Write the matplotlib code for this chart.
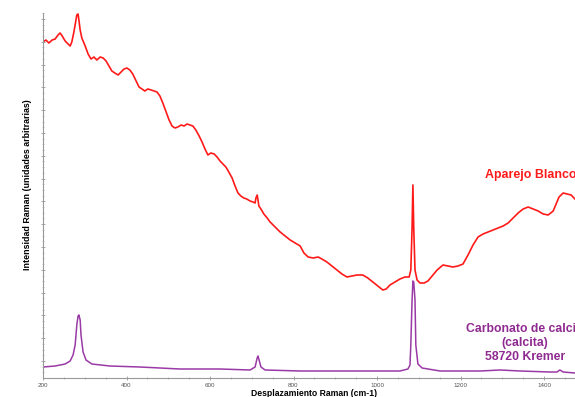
import matplotlib
matplotlib.use("Agg")
import matplotlib.pyplot as plt
import numpy as np
from matplotlib.ticker import MultipleLocator, FixedLocator

plt.rcParams['font.family'] = ['Liberation Sans', 'DejaVu Sans']

# Aparejo Blanco (red) spectrum: Raman shift (cm-1) and intensity (a.u.)
red_x = [200, 207, 214, 222, 229, 236, 241, 246, 253, 260, 265, 269, 274, 279, 281, 284, 286, 289, 293,
         301, 308, 315, 322, 329, 337, 344, 351, 358, 365, 372, 380, 387, 394, 401, 408, 415, 423, 430,
         437, 444, 451, 459, 466, 473, 480, 487, 495, 502, 509, 516, 523, 531, 538, 545, 552, 559, 566,
         574, 581, 588, 595, 602, 610, 617, 624, 631, 638, 645, 653, 660, 667, 674, 681, 688, 696, 703,
         708, 710, 713, 715, 717, 722, 729, 737, 744, 756, 768, 780, 792, 804, 816, 825, 835, 847, 859,
         868, 880, 892, 904, 916, 928, 940, 952, 966, 978, 990, 1002, 1014, 1022, 1031, 1043, 1055, 1067,
         1077, 1081, 1084, 1086, 1088, 1091, 1096, 1103, 1113, 1122, 1132, 1144, 1158, 1170, 1182, 1194,
         1206, 1218, 1230, 1242, 1254, 1266, 1278, 1290, 1302, 1314, 1326, 1338, 1350, 1362, 1374, 1386,
         1398, 1410, 1422, 1429, 1436, 1446, 1455, 1465, 1474, 1490]
red_y = [336, 338, 335, 338, 339, 343, 345, 342, 337, 334, 332, 336, 346, 358, 363, 364, 358, 348, 340,
         332, 324, 319, 321, 318, 321, 320, 317, 312, 307, 305, 303, 306, 309, 310, 308, 304, 297, 291,
         289, 287, 289, 288, 287, 286, 282, 275, 266, 258, 252, 250, 251, 253, 252, 254, 253, 252, 248,
         242, 236, 229, 223, 225, 224, 221, 217, 214, 211, 206, 200, 192, 185, 182, 180, 179, 177, 176,
         175, 180, 183, 178, 172, 169, 164, 160, 156, 151, 146, 142, 138, 135, 132, 125, 121, 120, 121,
         119, 116, 112, 108, 104, 101, 102, 103, 103, 100, 96, 92, 88, 89, 93, 96, 99, 101,
         101, 108, 150, 193, 150, 108, 98, 95, 95, 97, 102, 108, 113, 112, 111, 112,
         114, 123, 133, 141, 144, 146, 148, 150, 152, 155, 160, 165, 169, 171, 169, 167,
         164, 163, 167, 174, 181, 185, 184, 183, 179, 176]

# Carbonato de calcio (calcita) 58720 Kremer (purple) spectrum
pur_x = [200, 229, 253, 265, 272, 277, 281, 284, 286, 289, 291, 296, 303, 317, 360, 432, 528, 624, 696,
         708, 713, 715, 717, 722, 732, 816, 935, 1055, 1074, 1079, 1081, 1084, 1086, 1088, 1091, 1093,
         1098, 1108, 1151, 1247, 1295, 1343, 1413, 1431, 1438, 1446, 1474, 1490]
pur_y = [11, 12, 14, 17, 23, 33, 53, 62, 63, 58, 43, 26, 18, 14, 12, 11, 9, 9, 8,
         11, 20, 22, 19, 11, 8, 7, 7, 7, 9, 13, 33, 78, 97, 96, 78, 33,
         14, 10, 7, 7, 8, 7, 6, 6, 8, 6, 5, 5]

x_major = [200, 400, 600, 800, 1000, 1200, 1400]

fig = plt.figure(figsize=(5.75, 3.97), dpi=100)
ax = fig.add_axes([43 / 575, 19 / 397, 542.75 / 575, 365 / 397])

ax.plot(pur_x, pur_y, color='#9a3aa6', lw=1.1)
ax.plot(red_x, red_y, color='#ff1a1a', lw=1.2)

ax.set_xlim(200, 1500)
ax.set_ylim(0, 365)

for s in ['top', 'right']:
    ax.spines[s].set_visible(False)
for s in ['left', 'bottom']:
    ax.spines[s].set_color('#999999')
    ax.spines[s].set_linewidth(0.8)

ax.xaxis.set_major_locator(FixedLocator(x_major))
ax.xaxis.set_minor_locator(MultipleLocator(50))
ax.set_xticklabels([str(v) for v in x_major])
ax.tick_params(axis='x', which='major', labelsize=4.5, labelcolor='#555555', color='#999999',
               length=2.5, width=0.6, direction='inout', pad=2)
ax.tick_params(axis='x', which='minor', color='#999999', length=2, width=0.5, direction='inout')

ax.yaxis.set_major_locator(FixedLocator(np.arange(17, 366, 22.8)))
ax.yaxis.set_minor_locator(FixedLocator(np.arange(17 - 22.8, 366, 22.8 / 4)))
ax.set_yticklabels([])
ax.tick_params(axis='y', which='major', color='#999999', length=3, width=0.6, direction='inout')
ax.tick_params(axis='y', which='minor', color='#aaaaaa', length=1.5, width=0.4, direction='inout')

ax.set_xlabel('Desplazamiento Raman (cm-1)', fontsize=6.2, fontweight='bold', va='center')
ax.xaxis.set_label_coords(0.5, -0.0425)
ax.set_ylabel('Intensidad Raman (unidades arbitrarias)', fontsize=6.4, fontweight='bold', va='center')
ax.yaxis.set_label_coords(-0.028, 0.529)

ax.text(1259, 203, 'Aparejo Blanco', color='#ff1a1a', fontsize=8.9, fontweight='bold',
        ha='left', va='center')
ax.text(1354, 35, 'Carbonato de calcio\n(calcita)\n58720 Kremer', color='#8e2a90', fontsize=8.8,
        fontweight='bold', ha='center', va='center', linespacing=1.2)

fig.savefig('out.png', dpi=100)
